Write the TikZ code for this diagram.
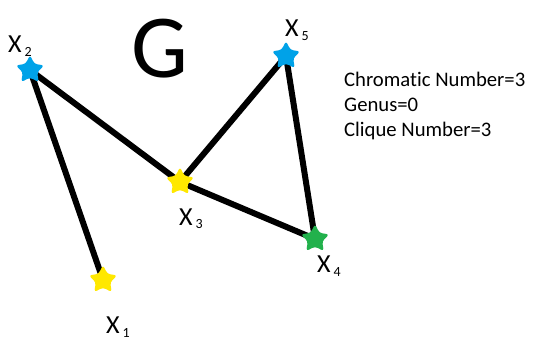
\documentclass[tikz,border=0pt]{standalone}
\usepackage{fontspec}
\setmainfont[Ligatures=NoCommon]{Carlito}
\usetikzlibrary{shapes.geometric}
\definecolor{pblue}{RGB}{0,162,232}
\definecolor{pyellow}{RGB}{255,232,0}
\definecolor{pgreen}{RGB}{34,177,76}
\newcommand\vsub[1]{\hspace{3pt}\lower4pt\hbox{\fontsize{14}{14}\selectfont #1}}
\begin{document}
\begin{tikzpicture}[x=1pt,y=-1pt,
  edge/.style={line width=6pt, black},
  vstar/.style={star, star points=5, star point ratio=2.0, minimum size=30pt, inner sep=0pt, draw=none, rounded corners=3pt},
  vlabel/.style={anchor=base west, inner sep=0pt, font=\fontsize{26}{26}\selectfont},
  info/.style={anchor=base west, inner sep=0pt, font=\fontsize{20.7}{20.7}\selectfont}]
\useasboundingbox (0,0) rectangle (533,342);
\fill[white] (0,0) rectangle (533,342);
% vertices positions
\coordinate (p1) at (103,280);
\coordinate (p2) at (30,70);
\coordinate (p3) at (180,182);
\coordinate (p4) at (315,239);
\coordinate (p5) at (286,56);
% edges
\draw[edge] (p2) -- (p1);
\draw[edge] (p2) -- (p3);
\draw[edge] (p3) -- (p5);
\draw[edge] (p3) -- (p4);
\draw[edge] (p5) -- (p4);
% stars
\node[vstar, fill=pyellow] (v1) at (p1) {};
\node[vstar, fill=pblue] (v2) at (p2) {};
\node[vstar, fill=pyellow] (v3) at (p3) {};
\node[vstar, fill=pgreen] (v4) at (p4) {};
\node[vstar, fill=pblue] (v5) at (p5) {};
% labels
\node[vlabel] (l1) at (106,333) {X\vsub{1}};
\node[vlabel] (l2) at (8,53) {X\vsub{2}};
\node[vlabel] (l3) at (179,225) {X\vsub{3}};
\node[vlabel] (l4) at (317,272) {X\vsub{4}};
\node[vlabel] (l5) at (285,37) {X\vsub{5}};
% title
\node[anchor=base, inner sep=0pt, font=\fontsize{90}{90}\selectfont] (G) at (160,78) {G};
% info
\node[info] (i1) at (344,87) {Chromatic Number=3};
\node[info] (i2) at (344,112) {Genus=0};
\node[info] (i3) at (344,137) {Clique Number=3};
\end{tikzpicture}
\end{document}
